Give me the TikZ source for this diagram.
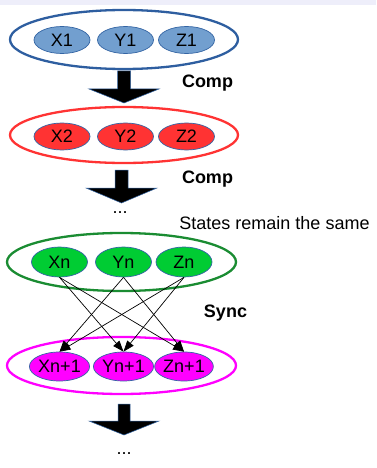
\documentclass[tikz,border=0pt]{standalone}
\usepackage{fontspec}
\setmainfont{Liberation Sans}
\usetikzlibrary{shapes.geometric,arrows.meta}
\definecolor{bluefill}{RGB}{114,159,207}
\definecolor{blueedge}{RGB}{52,101,164}
\definecolor{outerblue}{RGB}{46,94,160}
\definecolor{redfill}{RGB}{255,51,51}
\definecolor{greenfill}{RGB}{0,204,51}
\definecolor{outergreen}{RGB}{26,140,50}
\definecolor{magentafill}{RGB}{255,0,255}
\definecolor{lavender}{RGB}{238,238,250}
\tikzset{
  outer/.style={ellipse, draw, line width=2.3pt, inner sep=0pt},
  inner/.style={ellipse, draw=blueedge, line width=0.7pt, inner sep=0pt,
    minimum width=56pt, minimum height=27pt,
    font=\fontsize{18}{20}\selectfont, text=black},
  lbl/.style={font=\fontsize{18}{20}\selectfont, inner sep=0pt},
  blbl/.style={font=\fontsize{18}{20}\selectfont\bfseries, inner sep=0pt},
  bigarrow/.style={fill=black, draw=blueedge, line width=0.5pt},
  syncarrow/.style={draw=black, line width=0.7pt, -{Triangle[length=11pt,width=8pt]}}
}
\begin{document}
\begin{tikzpicture}[x=1pt,y=-1pt]
\useasboundingbox (0,0) rectangle (376,468);
\fill[white] (0,0) rectangle (376,468);
\fill[lavender] (0,0) rectangle (376,5);

% group 1
\node[outer, draw=outerblue, minimum width=228pt, minimum height=59pt] (g1) at (124,39.5) {};
\node[inner, fill=bluefill] (x1) at (62,40) {X1};
\node[inner, fill=bluefill] (y1) at (125.5,40) {Y1};
\node[inner, fill=bluefill] (z1) at (186.5,40) {Z1};

% arrow 1
\draw[bigarrow] (117.5,71) -- (130.5,71) -- (130.5,89) -- (159,89) -- (124,103) -- (89,89) -- (117.5,89) -- cycle;
\node[blbl] (comp1) at (207.5,83) {Comp};

% group 2
\node[outer, draw=redfill, minimum width=228pt, minimum height=56pt] (g2) at (124,135) {};
\node[inner, fill=redfill] (x2) at (62,136.5) {X2};
\node[inner, fill=redfill] (y2) at (125.5,136.5) {Y2};
\node[inner, fill=redfill] (z2) at (186.5,136.5) {Z2};

% arrow 2
\draw[bigarrow] (115,170) -- (128,170) -- (128,188) -- (157,188) -- (121.5,203) -- (86,188) -- (115,188) -- cycle;
\node[blbl] (comp2) at (207.5,179) {Comp};
\node[lbl] (dots1) at (120,213) {...};
\node[lbl] (states) at (274.5,223) {States remain the same};

% group 3
\node[outer, draw=outergreen, minimum width=229pt, minimum height=58pt] (g3) at (121.5,262) {};
\node[inner, fill=greenfill, minimum height=30pt] (xn) at (59.5,262) {Xn};
\node[inner, fill=greenfill, minimum height=30pt] (yn) at (123.5,262) {Yn};
\node[inner, fill=greenfill, minimum height=30pt] (zn) at (184,262) {Zn};

\node[blbl] (sync) at (225.5,313) {Sync};

% group 4
\node[outer, draw=magentafill, minimum width=229pt, minimum height=57pt] (g4) at (121.5,365.5) {};
\node[inner, fill=magentafill, minimum height=29pt] (xn1) at (59.5,366.5) {Xn+1};
\node[inner, fill=magentafill, minimum height=29pt] (yn1) at (123.5,366.5) {Yn+1};
\node[inner, fill=magentafill, minimum height=29pt] (zn1) at (184,366.5) {Zn+1};

% sync arrows
\draw[syncarrow] (xn.south) -- (yn1.north);
\draw[syncarrow] (xn.south) -- (zn1.north);
\draw[syncarrow] (yn.south) -- (xn1.north);
\draw[syncarrow] (yn.south) -- (zn1.north);
\draw[syncarrow] (zn.south) -- (xn1.north);
\draw[syncarrow] (zn.south) -- (yn1.north);

% arrow 3
\draw[bigarrow] (118,404) -- (130,404) -- (130,421) -- (159,421) -- (124,435) -- (89,421) -- (118,421) -- cycle;
\node[lbl] (dots2) at (124,454) {...};
\end{tikzpicture}
\end{document}
